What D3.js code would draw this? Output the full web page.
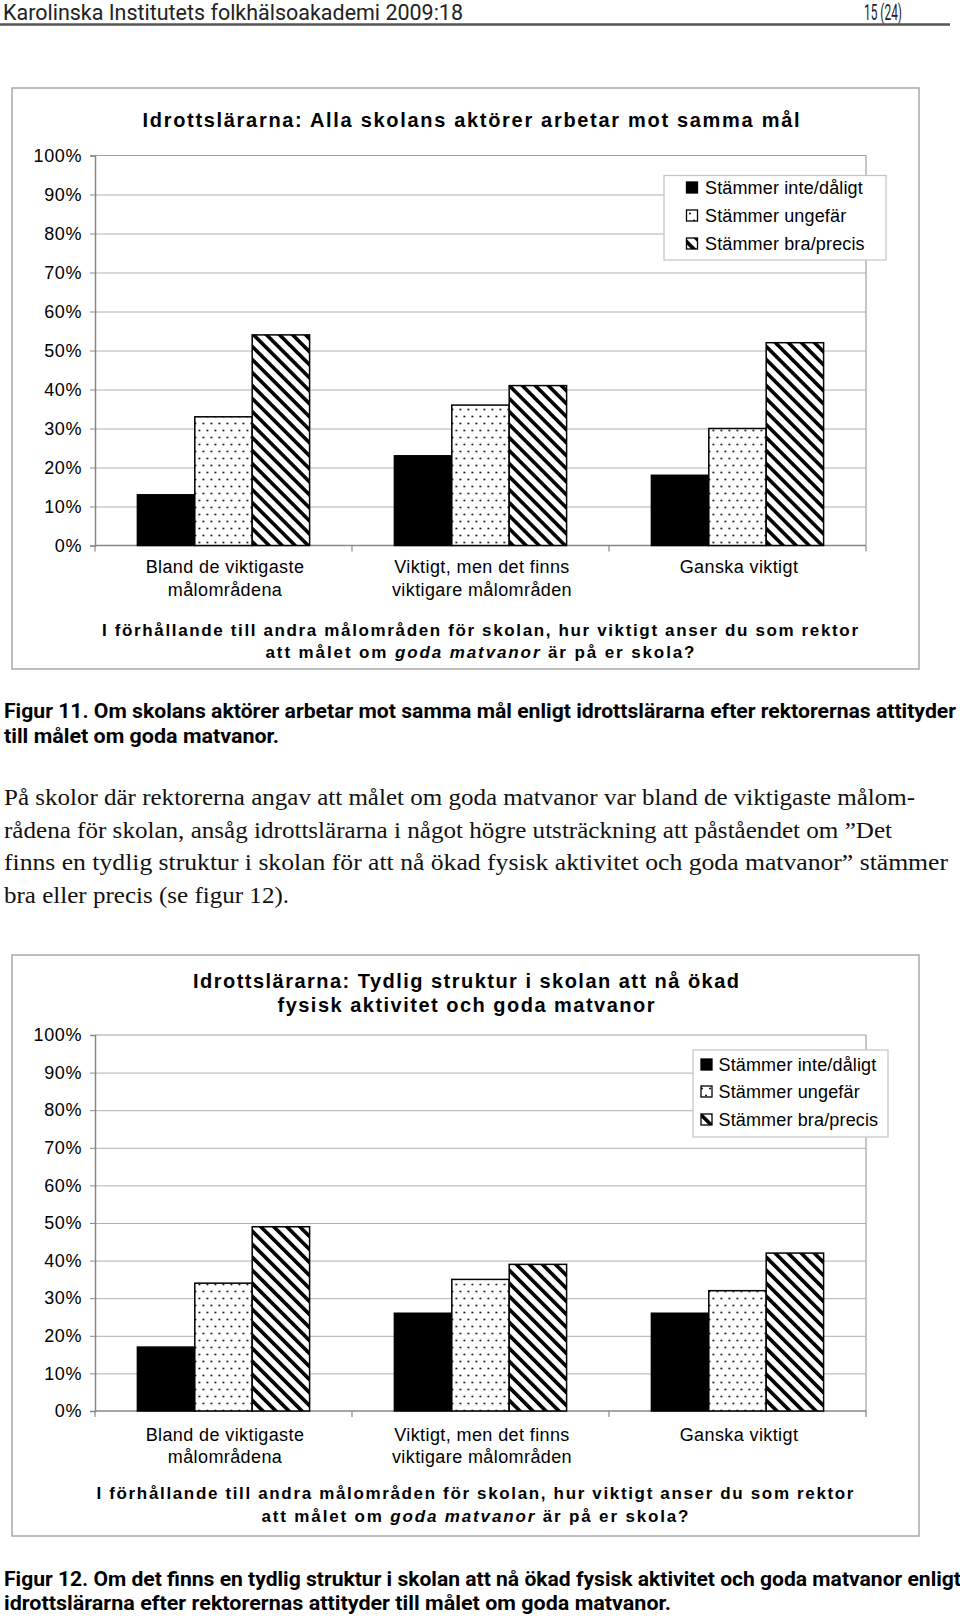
<!DOCTYPE html>
<html><head><meta charset="utf-8">
<script src="https://cdn.jsdelivr.net/npm/d3@7"></script>
<style>
html,body{margin:0;padding:0;background:#fff;}
svg{display:block;}
</style></head><body>
<script>
// ---------- data ----------
const categories = ["Bland de viktigaste målområdena", "Viktigt, men det finns viktigare målområden", "Ganska viktigt"];
const categoryLines = [["Bland de viktigaste", "målområdena"], ["Viktigt, men det finns", "viktigare målområden"], ["Ganska viktigt"]];
const seriesNames = ["Stämmer inte/dåligt", "Stämmer ungefär", "Stämmer bra/precis"];
const fig11Inte = [13, 23, 18];
const fig11Ungefar = [33, 36, 30];
const fig11Bra = [54, 41, 52];
const fig12Inte = [17, 26, 26];
const fig12Ungefar = [34, 35, 32];
const fig12Bra = [49, 39, 42];
const yTickValues = [0, 10, 20, 30, 40, 50, 60, 70, 80, 90, 100];
const fig11Title = ["Idrottslärarna: Alla skolans aktörer arbetar mot samma mål"];
const fig12Title = ["Idrottslärarna: Tydlig struktur i skolan att nå ökad", "fysisk aktivitet och goda matvanor"];
const xTitleLine1 = "I förhållande till andra målområden för skolan, hur viktigt anser du som rektor";
const xTitleLine2 = ["att målet om ", "goda matvanor", " är på er skola?"];
const headerLeft = "Karolinska Institutets folkhälsoakademi 2009:18";
const headerRight = "15 (24)";
const caption11 = ["Figur 11. Om skolans aktörer arbetar mot samma mål enligt idrottslärarna efter rektorernas attityder", "till målet om goda matvanor."];
const bodyText = [
  "På skolor där rektorerna angav att målet om goda matvanor var bland de viktigaste målom-",
  "rådena för skolan, ansåg idrottslärarna i något högre utsträckning att påståendet om ”Det",
  "finns en tydlig struktur i skolan för att nå ökad fysisk aktivitet och goda matvanor” stämmer",
  "bra eller precis (se figur 12)."
];
const caption12 = ["Figur 12. Om det finns en tydlig struktur i skolan att nå ökad fysisk aktivitet och goda matvanor enligt", "idrottslärarna efter rektorernas attityder till målet om goda matvanor."];

// ---------- drawing ----------
const W = 960, H = 1619;
const svg = d3.select("body").append("svg").attr("width", W).attr("height", H);
const defs = svg.append("defs");
const dots = defs.append("pattern").attr("id", "dots").attr("patternUnits", "userSpaceOnUse")
  .attr("width", 8).attr("height", 14);
dots.append("rect").attr("width", 8).attr("height", 14).attr("fill", "#fff");
dots.append("circle").attr("cx", 2).attr("cy", 3.5).attr("r", 0.95).attr("fill", "#000");
dots.append("circle").attr("cx", 6).attr("cy", 10.5).attr("r", 0.95).attr("fill", "#000");
const hatch = defs.append("pattern").attr("id", "hatch").attr("patternUnits", "userSpaceOnUse")
  .attr("width", 9.2).attr("height", 9.2).attr("patternTransform", "rotate(-45)");
hatch.append("rect").attr("width", 9.2).attr("height", 9.2).attr("fill", "#fff");
hatch.append("rect").attr("width", 3.6).attr("height", 9.2).attr("fill", "#000");
const fills = ["#000", "url(#dots)", "url(#hatch)"];

const SANS = "'Liberation Sans', Arial, Helvetica, sans-serif";
const SERIF = "'Liberation Serif', 'Times New Roman', serif";
const CAP = "Roboto, 'Open Sans', sans-serif";

function txt(g, s, x, y, o = {}) {
  const t = g.append("text").attr("x", x).attr("y", y)
    .attr("font-family", o.family || SANS).attr("font-size", o.size || 18)
    .attr("font-weight", o.weight || "normal").attr("fill", o.fill || "#000")
    .attr("text-anchor", o.anchor || "start");
  if (o.ls) t.attr("letter-spacing", o.ls);
  if (o.len) t.attr("textLength", o.len).attr("lengthAdjust", o.adjust || "spacing");
  if (s !== null) t.text(s);
  return t;
}

// header
txt(svg, headerLeft, 3, 20, {family: CAP, size: 22, len: 460, adjust: "spacingAndGlyphs", fill: "#222"});
txt(svg, headerRight, 902, 20, {family: CAP, size: 22, anchor: "end", len: 38, adjust: "spacingAndGlyphs", fill: "#222"});
svg.append("line").attr("x1", 0).attr("x2", 950).attr("y1", 24.5).attr("y2", 24.5)
  .attr("stroke", "#555").attr("stroke-width", 2.5);

function drawChart(vals, titleLines, L) {
  const g = svg.append("g");
  g.append("rect").attr("x", L.box[0]).attr("y", L.box[1])
    .attr("width", L.box[2] - L.box[0]).attr("height", L.box[3] - L.box[1])
    .attr("fill", "#fff").attr("stroke", "#a8a8a8").attr("stroke-width", 1.5);

  const x0 = d3.scaleBand().domain(categories).range([L.left, L.right]).paddingInner(0.33).paddingOuter(0.165);
  const x1 = d3.scaleBand().domain(seriesNames).range([0, x0.bandwidth()]);
  const y = d3.scaleLinear().domain([0, 100]).range([L.bottom, L.top]);

  // gridlines
  g.append("g").attr("transform", `translate(${L.left},0)`)
    .call(d3.axisLeft(y).tickValues(yTickValues.slice(1, -1)).tickSize(-(L.right - L.left)).tickFormat(""))
    .call(a => a.select(".domain").remove())
    .call(a => a.selectAll("line").attr("stroke", "#b0b0b0").attr("stroke-width", 1));
  // plot frame top/right
  g.append("path").attr("d", `M${L.left},${y(100)}H${L.right}V${y(0)}`)
    .attr("fill", "none").attr("stroke", "#a0a0a0").attr("stroke-width", 1.2);

  // y axis
  g.append("g").attr("transform", `translate(${L.left},0)`)
    .call(d3.axisLeft(y).tickValues(yTickValues).tickFormat(d => d + "%").tickSize(5).tickPadding(8))
    .call(a => a.select(".domain").attr("stroke", "#888").attr("stroke-width", 1.5))
    .call(a => a.selectAll("line").attr("stroke", "#888"))
    .call(a => a.selectAll("text").attr("font-family", SANS).attr("font-size", 18)
      .attr("letter-spacing", 0.6).attr("fill", "#000"));

  // bottom axis with ticks at category boundaries
  const step = x0.step();
  const bounds = categories.map(c => x0(c) - step * x0.paddingInner() / 2);
  bounds.push(bounds[bounds.length - 1] + step);
  g.append("line").attr("x1", L.left).attr("x2", L.right).attr("y1", y(0)).attr("y2", y(0))
    .attr("stroke", "#888").attr("stroke-width", 1.5);
  g.selectAll(".bt").data(bounds).join("line").attr("x1", d => d).attr("x2", d => d)
    .attr("y1", y(0)).attr("y2", y(0) + 6).attr("stroke", "#888").attr("stroke-width", 1.2);

  // bars
  const groups = g.selectAll(".grp").data(categories).join("g")
    .attr("transform", c => `translate(${x0(c)},0)`);
  groups.selectAll("rect").data((c, i) => seriesNames.map((s, k) => ({s, k, v: vals[k][i]})))
    .join("rect")
    .attr("x", d => x1(d.s)).attr("width", x1.bandwidth())
    .attr("y", d => y(d.v)).attr("height", d => y(0) - y(d.v))
    .attr("fill", d => fills[d.k]).attr("stroke", "#000").attr("stroke-width", 1.5);

  // category labels
  categories.forEach((c, i) => {
    categoryLines[i].forEach((line, j) => {
      txt(g, line, x0(c) + x0.bandwidth() / 2 + 1.5, L.catY[j], {anchor: "middle", size: 18, ls: 0.4});
    });
  });

  // title
  titleLines.forEach((t, i) => {
    txt(g, t, L.titleX, L.titleY[i], {anchor: "middle", size: 20, weight: "bold", len: L.titleW[i]});
  });

  // x axis title
  txt(g, xTitleLine1, L.xtX, L.xtY[0], {anchor: "middle", size: 17, weight: "bold", len: L.xtW[0]});
  const t2 = txt(g, null, L.xtX, L.xtY[1], {anchor: "middle", size: 17, weight: "bold", len: L.xtW[1]});
  xTitleLine2.forEach((p, i) => {
    const ts = t2.append("tspan").text(p);
    if (i === 1) ts.attr("font-style", "italic");
  });

  // legend
  const lg = g.append("g");
  lg.append("rect").attr("x", L.leg[0]).attr("y", L.leg[1])
    .attr("width", L.leg[2] - L.leg[0]).attr("height", L.leg[3] - L.leg[1])
    .attr("fill", "#fff").attr("stroke", "#c4c4c4").attr("stroke-width", 1.2);
  seriesNames.forEach((s, k) => {
    const cy = L.legY[k];
    lg.append("rect").attr("x", L.swX).attr("y", cy - 6).attr("width", 11).attr("height", 11)
      .attr("fill", fills[k]).attr("stroke", "#000").attr("stroke-width", 1.3);
    txt(lg, s, L.legTX, cy + 6.3, {size: 18, ls: 0.15});
  });
}

drawChart([fig11Inte, fig11Ungefar, fig11Bra], fig11Title, {
  box: [12, 88, 919, 669], left: 95, right: 866, top: 155.5, bottom: 545.5,
  titleX: 471, titleY: [126.5], titleW: [657],
  leg: [664, 175.5, 886, 260], legY: [188, 216, 244], swX: 686.5, legTX: 705,
  catY: [573, 595.5], xtX: 480, xtY: [636, 657.5], xtW: [756, 429]
});

drawChart([fig12Inte, fig12Ungefar, fig12Bra], fig12Title, {
  box: [12, 955, 919, 1536], left: 95, right: 866, top: 1035, bottom: 1411,
  titleX: 466, titleY: [987.5, 1012], titleW: [546, 377],
  leg: [693, 1050, 888, 1137], legY: [1065, 1092, 1120], swX: 701, legTX: 718.5,
  catY: [1441, 1462.5], xtX: 475, xtY: [1499, 1521.5], xtW: [757, 427]
});

// captions and body text
txt(svg, caption11[0], 4, 718, {family: CAP, size: 20, weight: "bold", len: 952, adjust: "spacingAndGlyphs"});
txt(svg, caption11[1], 4, 743, {family: CAP, size: 20, weight: "bold", len: 275, adjust: "spacingAndGlyphs"});
const bodyW = [911, 888, 944, 285];
bodyText.forEach((l, i) => {
  txt(svg, l, 4, 805 + i * 32.5, {family: SERIF, size: 22.5, len: bodyW[i], adjust: "spacingAndGlyphs", fill: "#111"});
});
txt(svg, caption12[0], 4, 1585.5, {family: CAP, size: 20, weight: "bold", len: 957, adjust: "spacingAndGlyphs"});
txt(svg, caption12[1], 4, 1610, {family: CAP, size: 20, weight: "bold", len: 667, adjust: "spacingAndGlyphs"});
</script>
</body></html>
